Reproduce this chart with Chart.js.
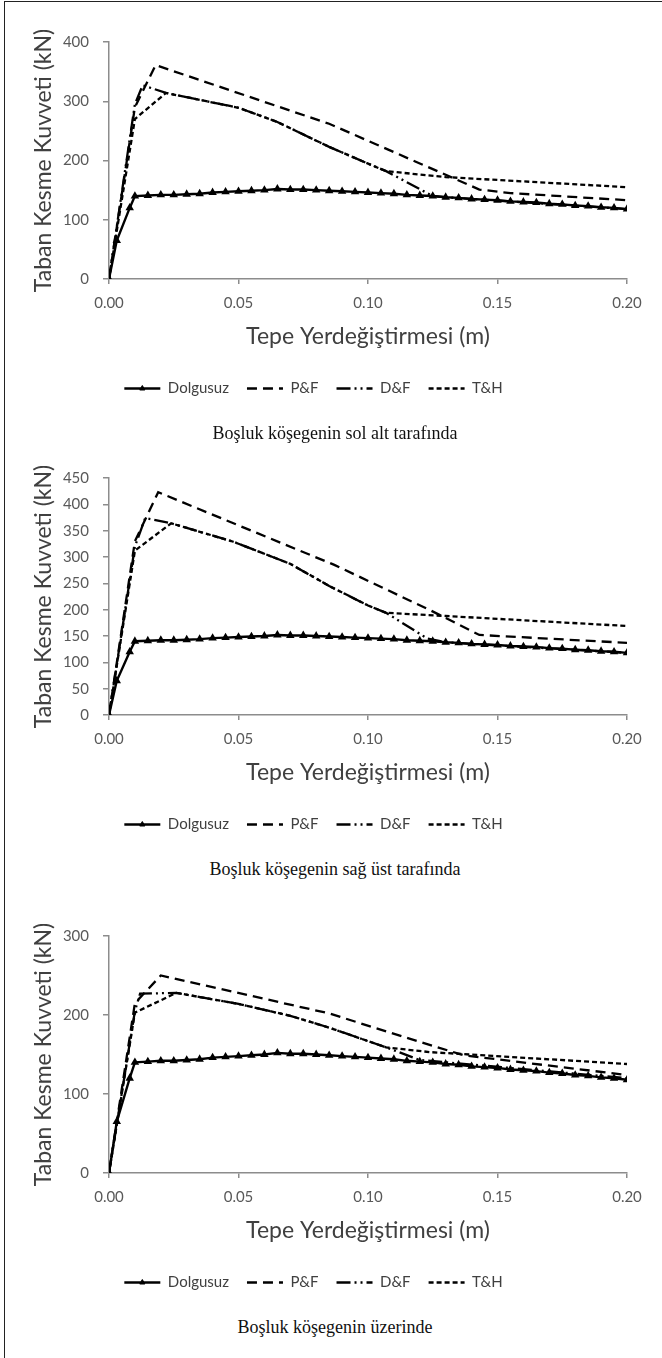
<!DOCTYPE html>
<html><head><meta charset="utf-8">
<script src="https://cdn.jsdelivr.net/npm/chart.js@4.4.1/dist/chart.umd.min.js"></script>
<style>
html,body{margin:0;padding:0;background:#fff;}
#page{position:relative;width:662px;height:1358px;overflow:hidden;background:#fff;}
#frame{position:absolute;left:4px;top:1px;width:670px;height:1400px;border:1.5px solid #222;}
.wrap{position:absolute;left:0;width:662px;height:420px;}
.cap{position:absolute;left:0;width:670px;text-align:center;font-family:'Liberation Serif','DejaVu Serif',serif;font-size:18px;color:#111;line-height:22px;}
</style></head>
<body><div id="page">
<div id="frame"></div>
<div class="wrap" style="top:0px"><canvas id="c1" width="662" height="420"></canvas></div>
<div class="wrap" style="top:436px"><canvas id="c2" width="662" height="420"></canvas></div>
<div class="wrap" style="top:894px"><canvas id="c3" width="662" height="420"></canvas></div>
<div class="cap" style="top:422px">Boşluk köşegenin sol alt tarafında</div>
<div class="cap" style="top:858px">Boşluk köşegenin sağ üst tarafında</div>
<div class="cap" style="top:1316px">Boşluk köşegenin üzerinde</div>
</div>
<script>
// ---- data ----
const seriesNames = ['Dolgusuz', 'P&F', 'D&F', 'T&H'];
const yTitle = 'Taban Kesme Kuvveti (kN)';
const xTitle = 'Tepe Yerdeğiştirmesi (m)';

const dolgusuzX = [0, 0.003, 0.008, 0.01, 0.015, 0.02, 0.025, 0.03, 0.035, 0.04, 0.045, 0.05, 0.055, 0.06, 0.065,
  0.07, 0.075, 0.08, 0.085, 0.09, 0.095, 0.1, 0.105, 0.11, 0.115, 0.12, 0.125, 0.13, 0.135, 0.14, 0.145, 0.15,
  0.155, 0.16, 0.165, 0.17, 0.175, 0.18, 0.185, 0.19, 0.195, 0.2];
const dolgusuzY = [0, 65, 120, 140, 141, 142, 142, 143, 144, 146, 147, 148, 149, 150, 152,
  151, 151, 150, 149, 148, 147, 146, 145, 144, 142, 141, 140, 138, 137, 135, 134, 133,
  131, 130, 129, 127, 126, 124, 123, 121, 120, 118];

// chart 1: Boşluk köşegenin sol alt tarafında
const c1PF_X = [0, 0.01, 0.018, 0.085, 0.12, 0.143, 0.155, 0.2];
const c1PF_Y = [0, 290, 361, 262, 195, 151, 145, 133];
const c1DF_X = [0, 0.01, 0.013, 0.022, 0.05, 0.065, 0.085, 0.102, 0.107, 0.125, 0.13, 0.2];
const c1DF_Y = [0, 295, 327, 314, 289, 265, 223, 191, 182, 140, 138, 118];
const c1TH_X = [0, 0.01, 0.022, 0.05, 0.065, 0.085, 0.102, 0.107, 0.13, 0.2];
const c1TH_Y = [0, 270, 314, 289, 265, 223, 191, 182, 172, 155];
const c1Ticks = {max: 400, step: 100};

// chart 2: Boşluk köşegenin sağ üst tarafında
const c2PF_X = [0, 0.01, 0.019, 0.087, 0.124, 0.143, 0.2];
const c2PF_Y = [0, 330, 423, 285, 199, 152, 137];
const c2DF_X = [0, 0.01, 0.014, 0.024, 0.048, 0.07, 0.085, 0.1, 0.107, 0.123, 0.13, 0.2];
const c2DF_Y = [0, 320, 374, 364, 329, 287, 245, 208, 194, 145, 138, 118];
const c2TH_X = [0, 0.01, 0.024, 0.048, 0.07, 0.085, 0.1, 0.107, 0.13, 0.2];
const c2TH_Y = [0, 312, 364, 329, 287, 245, 208, 194, 188, 169];
const c2Ticks = {max: 450, step: 50};

// chart 3: Boşluk köşegenin üzerinde
const c3PF_X = [0, 0.01, 0.02, 0.085, 0.116, 0.137, 0.2];
const c3PF_Y = [0, 215, 250, 202, 170, 149, 124];
const c3DF_X = [0, 0.01, 0.012, 0.026, 0.05, 0.07, 0.085, 0.107, 0.12, 0.2];
const c3DF_Y = [0, 205, 227, 228, 214, 199, 184, 159, 143, 120];
const c3TH_X = [0, 0.01, 0.026, 0.05, 0.07, 0.085, 0.107, 0.124, 0.2];
const c3TH_Y = [0, 203, 228, 214, 199, 184, 159, 153, 138];
const c3Ticks = {max: 300, step: 100};

// ---- build ----
const pts = (xs, ys) => xs.map((x, i) => ({x: x, y: ys[i]}));
const FONT = 'Lato, "Open Sans", sans-serif';
const PAD_L = 0;
const LINE_W = 2.3;

const legendMarker = {
  id: 'legendMarker',
  afterDraw(chart) {
    const lg = chart.legend;
    if (!lg || !lg.legendHitBoxes || !lg.legendHitBoxes.length) return;
    const hb = lg.legendHitBoxes[0];
    const w = lg.options.labels.pointStyleWidth;
    const fs = lg.options.labels.font.size;
    const cx = hb.left + w / 2, cy = hb.top + fs / 2;
    const ctx = chart.ctx;
    ctx.save();
    ctx.fillStyle = '#000'; ctx.strokeStyle = '#000'; ctx.lineWidth = 1;
    Chart.helpers.drawPoint(ctx, {pointStyle: 'triangle', radius: 3, borderWidth: 1, rotation: 0}, cx, cy);
    ctx.restore();
  }
};

function makeChart(id, pf, df, th, ticks) {
  const common = {fill: false, tension: 0, borderColor: '#000', backgroundColor: '#000', pointRadius: 0, borderWidth: LINE_W};
  new Chart(document.getElementById(id), {
    type: 'line',
    data: {
      datasets: [
        Object.assign({}, common, {label: seriesNames[0], data: pts(dolgusuzX, dolgusuzY), pointRadius: 2.5, pointStyle: 'triangle', borderWidth: 2.4}),
        Object.assign({}, common, {label: seriesNames[1], data: pts(pf[0], pf[1]), borderDash: [10, 6]}),
        Object.assign({}, common, {label: seriesNames[2], data: pts(df[0], df[1]), borderDash: [14, 4, 2, 4, 2, 4]}),
        Object.assign({}, common, {label: seriesNames[3], data: pts(th[0], th[1]), borderDash: [5, 3]})
      ]
    },
    options: {
      responsive: false, animation: false, devicePixelRatio: 1,
      layout: {padding: {left: PAD_L, right: 35, top: 42, bottom: 14}},
      plugins: {
        tooltip: {enabled: false},
        legend: {
          position: 'bottom', align: 'center',
          labels: {usePointStyle: true, pointStyle: 'line', pointStyleWidth: 36, boxHeight: 15,
                   padding: 18, color: '#404040', font: {family: FONT, size: 15},
                   generateLabels(chart) {
                     const items = Chart.defaults.plugins.legend.labels.generateLabels(chart);
                     items.forEach((it) => {
                       const ds = chart.data.datasets[it.datasetIndex];
                       it.lineDash = ds.borderDash || [];
                       it.lineWidth = LINE_W;
                       it.strokeStyle = '#000';
                       it.fillStyle = '#000';
                       it.pointStyle = 'line';
                     });
                     return items;
                   }}
        }
      },
      scales: {
        x: {
          type: 'linear', min: 0, max: 0.2,
          afterFit: (s) => { s.height = 84; },
          ticks: {stepSize: 0.05, padding: 10, color: '#595959', font: {family: FONT, size: 15},
                  callback: (v) => v.toFixed(2)},
          grid: {display: true, drawOnChartArea: false, drawTicks: true, tickLength: 5, color: '#8c8c8c', lineWidth: 1.5},
          border: {display: true, color: '#8c8c8c', width: 1.5},
          title: {display: true, text: xTitle, color: '#404040', font: {family: FONT, size: 23}, padding: {top: 0, bottom: 13}}
        },
        y: {
          type: 'linear', min: 0, max: ticks.max,
          afterFit: (s) => { s.width = 109 - PAD_L; },
          ticks: {stepSize: ticks.step, padding: 14, color: '#595959', font: {family: FONT, size: 15}},
          grid: {display: true, drawOnChartArea: false, drawTicks: true, tickLength: 6, color: '#8c8c8c', lineWidth: 1.5},
          border: {display: true, color: '#8c8c8c', width: 1.5},
          title: {display: true, text: yTitle, color: '#404040', font: {family: FONT, size: 23}, padding: {top: 30, bottom: 0}}
        }
      }
    },
    plugins: [legendMarker]
  });
}

makeChart('c1', [c1PF_X, c1PF_Y], [c1DF_X, c1DF_Y], [c1TH_X, c1TH_Y], c1Ticks);
makeChart('c2', [c2PF_X, c2PF_Y], [c2DF_X, c2DF_Y], [c2TH_X, c2TH_Y], c2Ticks);
makeChart('c3', [c3PF_X, c3PF_Y], [c3DF_X, c3DF_Y], [c3TH_X, c3TH_Y], c3Ticks);
</script>
</body></html>
